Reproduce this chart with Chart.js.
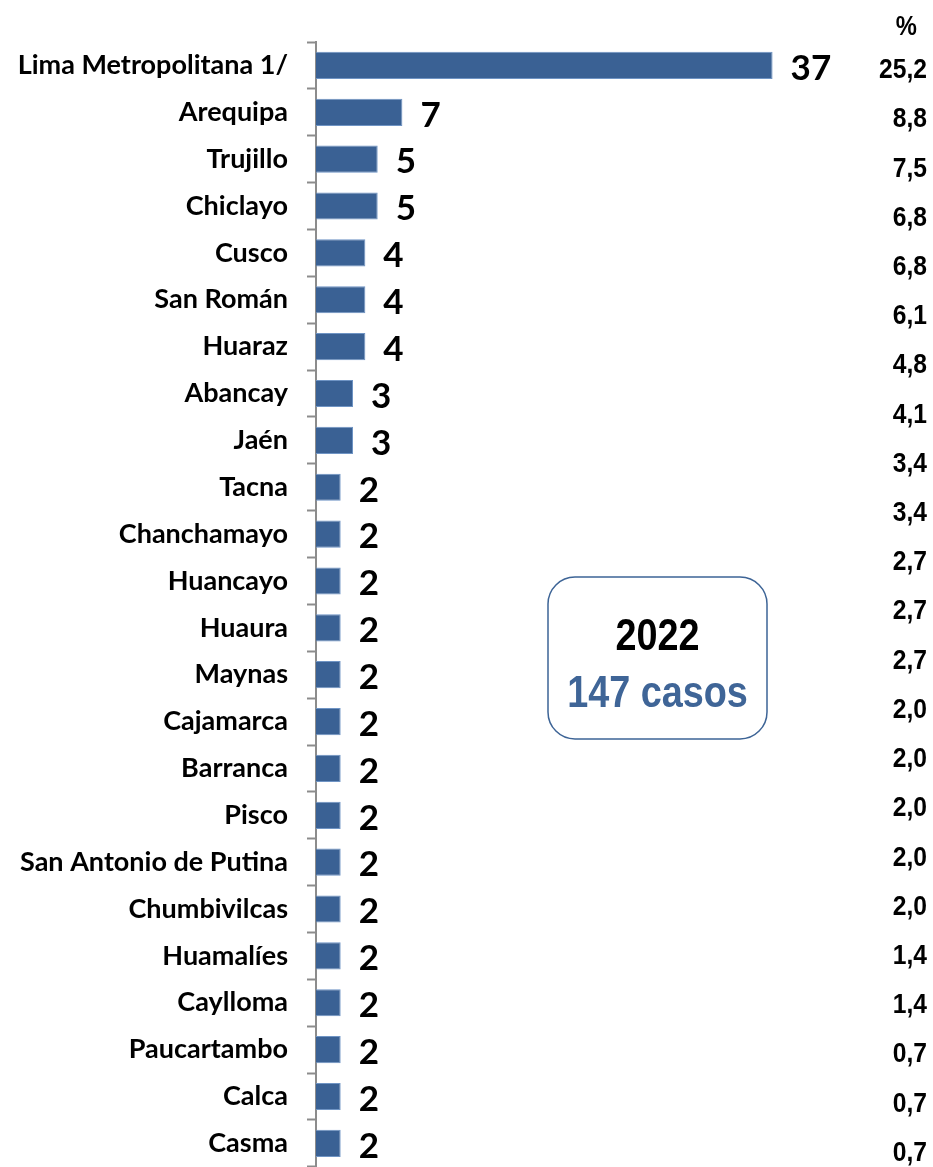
<!DOCTYPE html>
<html>
<head>
<meta charset="utf-8">
<script src="https://cdn.jsdelivr.net/npm/chart.js@4.4.0/dist/chart.umd.min.js"></script>
<style>
  html, body { margin: 0; padding: 0; background: #fff; overflow: hidden; }
  #wrap { width: 933px; height: 1167px; overflow: hidden; }
  canvas { display: block; }
</style>
</head>
<body>
<div id="wrap"><canvas id="grafico" width="933" height="1202"></canvas></div>
<script>
// datos del grafico
const provincias = ['Lima Metropolitana 1/', 'Arequipa', 'Trujillo', 'Chiclayo', 'Cusco', 'San Román', 'Huaraz',
    'Abancay', 'Jaén', 'Tacna', 'Chanchamayo', 'Huancayo', 'Huaura', 'Maynas', 'Cajamarca', 'Barranca', 'Pisco',
    'San Antonio de Putina', 'Chumbivilcas', 'Huamalíes', 'Caylloma', 'Paucartambo', 'Calca', 'Casma'];
const casos = [37, 7, 5, 5, 4, 4, 4, 3, 3, 2, 2, 2, 2, 2, 2, 2, 2, 2, 2, 2, 2, 2, 2, 2];
const porcentajes = ['25,2', '8,8', '7,5', '6,8', '6,8', '6,1', '4,8', '4,1', '3,4', '3,4', '2,7', '2,7', '2,7',
    '2,0', '2,0', '2,0', '2,0', '2,0', '1,4', '1,4', '0,7', '0,7', '0,7'];
const anio = '2022';
const totalCasos = '147 casos';

const arial = '"Liberation Sans", Arial, sans-serif';

// texto angosto (simula Arial Narrow)
function textoAngosto(ctx, txt, x, y, escala) {
    ctx.save();
    ctx.translate(x, y);
    ctx.scale(escala, 1);
    ctx.fillText(txt, 0, 0);
    ctx.restore();
}

// etiquetas de valor, columna % y recuadro
const extras = {
    id: 'extras',
    afterDatasetsDraw(chart) {
        const ctx = chart.ctx;
        const meta = chart.getDatasetMeta(0);
        ctx.save();
        // valor al final de cada barra
        ctx.fillStyle = '#000';
        ctx.font = 'bold 35px Lato, "Open Sans", sans-serif';
        ctx.textAlign = 'left';
        ctx.textBaseline = 'middle';
        meta.data.forEach((bar, i) => {
            ctx.fillText(casos[i], bar.x + 18, bar.y + 3);
        });

        // columna de porcentajes
        const step = meta.data[1].y - meta.data[0].y;
        ctx.textAlign = 'right';
        ctx.font = 'bold 27px ' + arial;
        textoAngosto(ctx, '%', 917, 28, 0.88);
        ctx.font = 'bold 28px ' + arial;
        porcentajes.forEach((p, i) => {
            textoAngosto(ctx, p, 927, meta.data[0].y + 5 + i * step * 1.05, 0.88);
        });

        // recuadro del total
        const bx = 548, by = 577, bw = 219, bh = 162, r = 27;
        ctx.beginPath();
        ctx.roundRect(bx, by, bw, bh, r);
        ctx.lineWidth = 1.5;
        ctx.strokeStyle = '#3d6496';
        ctx.stroke();
        ctx.textAlign = 'center';
        ctx.font = 'bold 45px ' + arial;
        ctx.fillStyle = '#000';
        textoAngosto(ctx, anio, bx + bw / 2, 638, 0.84);
        ctx.fillStyle = '#3f6597';
        textoAngosto(ctx, totalCasos, bx + bw / 2, 695, 0.84);
        ctx.restore();
    }
};

new Chart(document.getElementById('grafico'), {
    type: 'bar',
    data: {
        labels: provincias,
        datasets: [{
            data: casos,
            backgroundColor: '#3a6194',
            borderColor: '#6f94c4',
            borderWidth: 1,
            barPercentage: 0.58,
            categoryPercentage: 1
        }]
    },
    options: {
        indexAxis: 'y',
        responsive: false,
        animation: false,
        layout: { padding: { top: 42, left: 0, right: 0, bottom: 0 } },
        plugins: {
            legend: { display: false },
            tooltip: { enabled: false }
        },
        scales: {
            x: {
                display: false,
                min: 0,
                max: 50
            },
            y: {
                afterFit(scale) { scale.width = 316; },
                grid: {
                    drawOnChartArea: false,
                    tickLength: 9,
                    tickWidth: 2,
                    color: '#8c8c8c',
                    offset: true
                },
                border: { color: '#8c8c8c', width: 2 },
                ticks: {
                    padding: 19,
                    color: '#000',
                    font: { family: 'Lato, "Open Sans", sans-serif', weight: 'bold', size: 27 }
                }
            }
        }
    },
    plugins: [extras]
});
</script>
</body>
</html>
